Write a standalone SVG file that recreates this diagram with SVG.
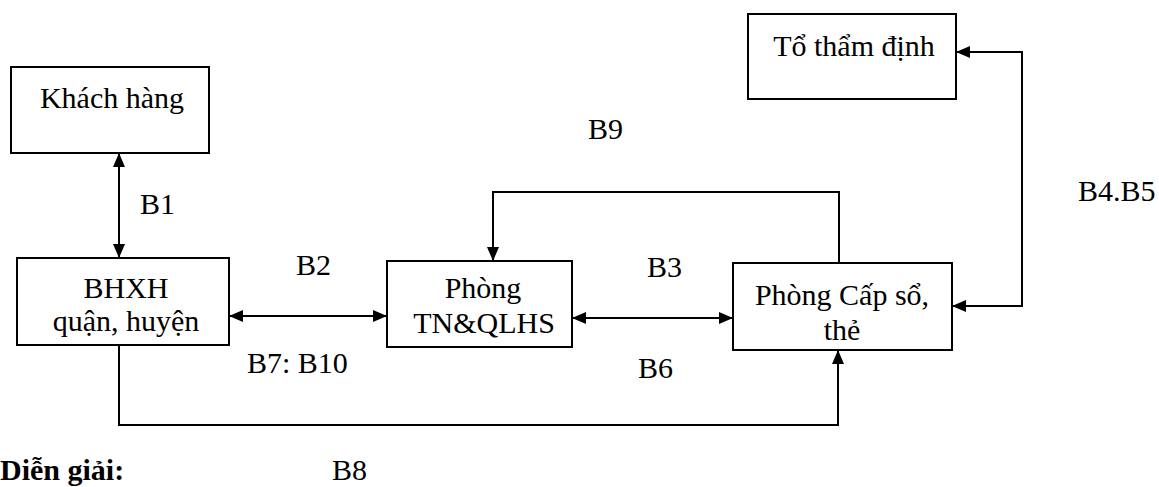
<svg xmlns="http://www.w3.org/2000/svg" width="1159" height="487" viewBox="0 0 1159 487">
<style>
.box{fill:#fff;stroke:#000;stroke-width:2}
.t{font-family:"Liberation Serif","Times New Roman",serif;font-size:30px;fill:#000}
.n{text-anchor:middle}
.c{fill:none;stroke:#000;stroke-width:2}
</style>
<defs>
<marker id="ah" viewBox="0 0 14 12" refX="14" refY="6" markerWidth="14" markerHeight="12" markerUnits="userSpaceOnUse" orient="auto-start-reverse">
<path d="M0,0 L14,6 L0,12 Z" fill="#000"/>
</marker>
</defs>
<rect width="1159" height="487" fill="#fff"/>
<g id="khach-hang">
<rect class="box" x="11" y="67" width="198" height="86"/>
<text class="t n" x="112" y="108">Khách hàng</text>
</g>
<g id="to-tham-dinh">
<rect class="box" x="748" y="14" width="208" height="85"/>
<text class="t n" x="854" y="56">Tổ thẩm định</text>
</g>
<g id="bhxh">
<rect class="box" x="17" y="258" width="212" height="87"/>
<text class="t n" x="126" y="298">BHXH</text>
<text class="t n" x="126" y="331">quận, huyện</text>
</g>
<g id="phong-tn">
<rect class="box" x="387" y="261" width="185" height="86"/>
<text class="t n" x="483" y="298">Phòng</text>
<text class="t n" x="484" y="333">TN&amp;QLHS</text>
</g>
<g id="phong-cap-so">
<rect class="box" x="733" y="263" width="219" height="87"/>
<text class="t n" x="842" y="305">Phòng Cấp sổ,</text>
<text class="t n" x="842" y="340">thẻ</text>
</g>
<g id="connectors">
<path class="c" d="M119,153 V258" marker-start="url(#ah)" marker-end="url(#ah)"/>
<path class="c" d="M229,316 H387" marker-start="url(#ah)" marker-end="url(#ah)"/>
<path class="c" d="M572,318 H733" marker-start="url(#ah)" marker-end="url(#ah)"/>
<path class="c" d="M839,263 V192 H493 V261" marker-end="url(#ah)"/>
<path class="c" d="M956,52 H1022 V306 H952" marker-start="url(#ah)" marker-end="url(#ah)"/>
<path class="c" d="M119,345 V425 H838 V350" marker-end="url(#ah)"/>
</g>
<g id="labels">
<text class="t" x="140" y="214">B1</text>
<text class="t" x="296" y="275">B2</text>
<text class="t" x="247" y="373">B7: B10</text>
<text class="t" x="647" y="277">B3</text>
<text class="t" x="638" y="378">B6</text>
<text class="t" x="588" y="139">B9</text>
<text class="t" x="1078" y="201">B4.B5</text>
<text class="t" x="332" y="480">B8</text>
<text class="t" x="0" y="480" font-weight="bold">Diễn giải:</text>
</g>
</svg>
